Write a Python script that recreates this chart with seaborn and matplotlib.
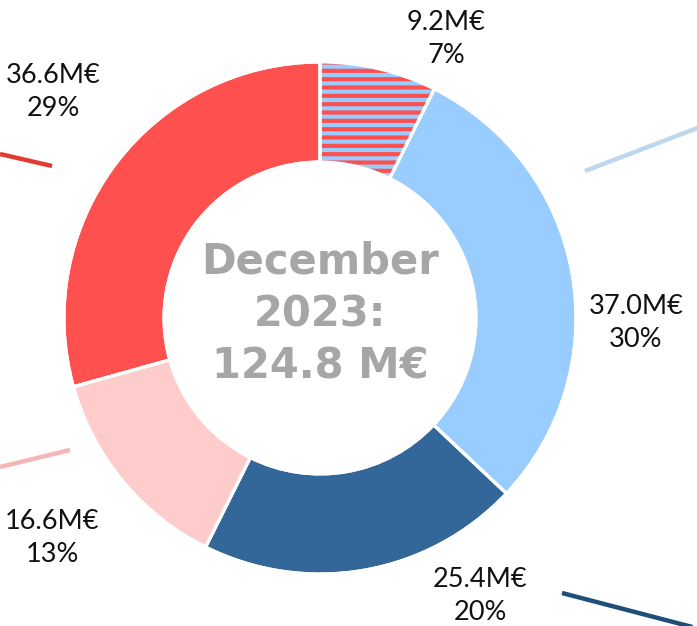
"""
Donut chart — December 2023 breakdown (124.8 M€), recreated with seaborn/matplotlib.
"""
import matplotlib
matplotlib.use('Agg')
import matplotlib.pyplot as plt
import seaborn as sns

# ──────────────────────────────────────────────────────────────────────
# Data
# ──────────────────────────────────────────────────────────────────────
values_meur = [9.2, 37.0, 25.4, 16.6, 36.6]
shares_pct = [7, 30, 20, 13, 29]
slice_colors = ['#99CCFF', '#99CCFF', '#336699', '#FFCCCC', '#FF5050']
hatch_color = '#FF5050'
leader_colors = ['#BDD7EE', '#1F4E79', '#F4B6B6', '#E03C31']
center_title = 'December\n2023:\n124.8 M€'

# ──────────────────────────────────────────────────────────────────────
# Layout (pixel geometry of the 697x626 reference)
# ──────────────────────────────────────────────────────────────────────
W, H = 697, 626
CX, CY, R = 320, 318, 256          # centre and outer radius in px
RING = 100 / 256                   # ring width as a fraction of radius

def px(x, y):
    """pixel (from top-left) -> data coords where the outer radius is 1"""
    return (x - CX) / R, (CY - y) / R

label_px = [(446, 39), (636, 323), (480, 596), (52, 538), (53, 92)]
leader_px = [((585, 171), (700, 127)),
             ((562, 593), (700, 629)),
             ((0, 467), (70, 450)),
             ((0, 154), (52, 166))]

sns.set_style('white')
plt.rcParams['hatch.linewidth'] = 3.0

fig = plt.figure(figsize=(W / 100, H / 100), dpi=100)
ax = fig.add_axes([0, 0, 1, 1])

# Base donut (hatch is drawn on slice 0 only)
wedges, _ = ax.pie(values_meur, colors=slice_colors, startangle=90,
                   counterclock=False, radius=1,
                   wedgeprops=dict(width=RING, edgecolor='white', linewidth=2.2))
w0 = wedges[0]
w0.set_hatch('--')
w0.set_edgecolor(hatch_color)   # hatch takes the edge colour
w0.set_linewidth(0)

# White separators on top
outline, _ = ax.pie(values_meur, colors=['none'] * len(values_meur), startangle=90,
                    counterclock=False, radius=1,
                    wedgeprops=dict(width=RING, edgecolor='white', linewidth=2.2,
                                    fill=False))

# Value labels
for (lx, ly), v, p in zip(label_px, values_meur, shares_pct):
    x, y = px(lx, ly)
    ax.text(x, y, f'{v:.1f}M€\n{p}%', ha='center', va='center',
            fontsize=19.5, family='Lato', linespacing=1.38, color='#111111')

# Clipped leader lines at the edges
for ((x0, y0), (x1, y1)), c in zip(leader_px, leader_colors):
    a, b = px(x0, y0)
    c2, d = px(x1, y1)
    ax.plot([a, c2], [b, d], color=c, linewidth=3.2, solid_capstyle='butt')

# Centre title
ax.text(0, px(0, 314)[1], center_title, ha='center', va='center',
        fontsize=30, fontweight='bold', family='DejaVu Sans',
        color='#A6A6A6', linespacing=1.31)

ax.set_xlim(-CX / R, (W - CX) / R)
ax.set_ylim(-(H - CY) / R, CY / R)
ax.set_aspect('auto')
ax.axis('off')

fig.savefig('out.png', dpi=100)
plt.close(fig)
